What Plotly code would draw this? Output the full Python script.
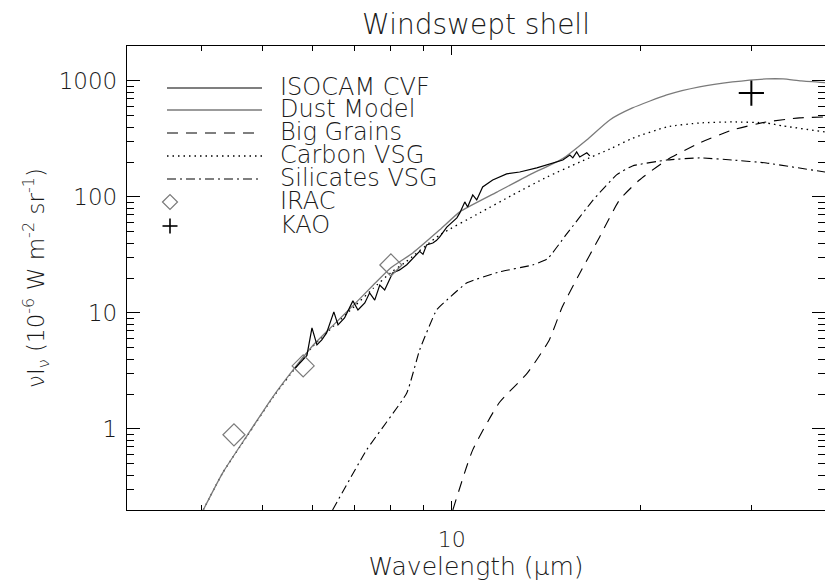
import math
import plotly.graph_objects as go

# ---------------- data ----------------
dust_wl = [4.02, 4.32, 4.73, 5.19, 5.67, 6.0, 6.5, 7.0, 7.5, 8.0, 8.67, 9.57, 10.3, 11.8, 13.3,
           15.0, 16.4, 17.85, 19.4, 22.0, 24.8, 28.0, 31.7, 33.7, 36.0, 40.0]
dust_val = [0.2, 0.42, 0.89, 1.89, 3.56, 5.19, 8.0, 11.9, 17.4, 24.5, 32.9, 52.0, 74.3, 110, 155,
            213, 310, 461, 585, 757, 888, 980, 1040, 1040, 1000, 960]

carbon_wl = [4.02, 4.32, 4.73, 5.19, 5.67, 6.0, 6.5, 7.0, 7.5, 8.0, 8.41, 9.57, 11.08, 12.5, 14.2,
             16.0, 18.0, 19.4, 22.0, 24.8, 28.0, 31.7, 33.7, 39.3, 40.0]
carbon_val = [0.2, 0.42, 0.88, 1.87, 3.5, 5.1, 7.8, 11.4, 16.3, 22.3, 27.0, 47.0, 72.8, 104, 149,
              200, 264, 320, 401, 434, 443, 434, 409, 363, 355]

sil_wl = [6.46, 7.32, 8.48, 8.89, 9.46, 9.82, 10.56, 11.92, 13.45, 14.2, 15.2, 16.8, 18.3,
          19.4, 22.0, 24.8, 28.0, 31.7, 39.3, 40.0]
sil_val = [0.2, 0.66, 2.04, 4.8, 10.6, 12.9, 18.1, 22.6, 25.9, 29.2, 47.0, 94.2, 155,
           185, 208, 217, 208, 196, 164, 162]

big_wl = [10.04, 10.8, 11.9, 13.2, 14.3, 15.0, 16.0, 17.2, 18.5, 19.9, 22.0, 24.8, 28.0,
          31.7, 35.8, 39.3, 40.0]
big_val = [0.2, 0.66, 1.68, 3.04, 5.85, 11.3, 22.1, 45.2, 94.2, 140, 208, 292, 378,
           443, 480, 489, 490]

cvf_wl = [5.62, 5.73, 5.88, 5.99, 6.10, 6.21, 6.32, 6.49, 6.59, 6.75, 6.96, 7.09, 7.27,
          7.40, 7.54, 7.68, 7.82, 8.05, 8.26, 8.48, 8.67, 8.89, 9.00, 9.12, 9.33, 9.45,
          9.57, 9.82, 10.19, 10.30, 10.49, 10.60, 10.80, 10.96, 11.20, 11.62, 12.23, 12.83,
          13.66, 14.48, 15.03, 15.42, 15.59, 15.81, 15.99, 16.41, 16.59]
cvf_val = [3.3, 3.7, 4.3, 7.42, 5.30, 5.85, 6.72, 10.2, 7.88, 9.05, 12.7, 10.6, 12.2,
           14.9, 12.9, 17.4, 15.8, 22.1, 23.5, 26.0, 29.8, 34.0, 32.0, 38.6, 40.1, 42.0,
           45.2, 55.0, 66.0, 72.8, 90.6, 82.0, 104, 94.2, 122, 140, 158, 164,
           178, 196, 208, 230, 217, 244, 221, 240, 226]

irac_wl = [4.5, 5.8, 8.0]
irac_val = [0.89, 3.49, 25.9]

kao_wl = [30.0]
kao_val = [785]

legend_labels = ["ISOCAM CVF", "Dust Model", "Big Grains", "Carbon VSG",
                 "Silicates VSG", "IRAC", "KAO"]

y_major = [1, 10, 100, 1000]
y_minor = [0.2, 0.3, 0.4, 0.5, 0.6, 0.7, 0.8, 0.9, 2, 3, 4, 5, 6, 7, 8, 9,
           20, 30, 40, 50, 60, 70, 80, 90, 200, 300, 400, 500, 600, 700, 800, 900]
x_major = [10]
x_minor = [4, 5, 6, 7, 8, 9, 20, 30]

FONT = "DejaVu Sans"
TXT = "#1a1a1a"
GREY = "#7a7a7a"
DASH = "11px,8px"
DOT = "1.5px,4px"
DASHDOT = "9px,4px,2px,4px"

fig = go.Figure()
fig.add_trace(go.Scatter(x=big_wl, y=big_val, mode="lines", name="Big Grains",
                         line=dict(color="black", width=1.1, dash=DASH,
                                   shape="spline", smoothing=0.5)))
fig.add_trace(go.Scatter(x=carbon_wl, y=carbon_val, mode="lines", name="Carbon VSG",
                         line=dict(color="black", width=1.3, dash=DOT,
                                   shape="spline", smoothing=0.5)))
fig.add_trace(go.Scatter(x=sil_wl, y=sil_val, mode="lines", name="Silicates VSG",
                         line=dict(color="black", width=1.1, dash=DASHDOT,
                                   shape="spline", smoothing=0.4)))
fig.add_trace(go.Scatter(x=dust_wl, y=dust_val, mode="lines", name="Dust Model",
                         line=dict(color=GREY, width=1.3, shape="spline", smoothing=0.5)))
fig.add_trace(go.Scatter(x=cvf_wl, y=cvf_val, mode="lines", name="ISOCAM CVF",
                         line=dict(color="black", width=1.2)))
fig.add_trace(go.Scatter(x=irac_wl, y=irac_val, mode="markers", name="IRAC",
                         marker=dict(symbol="diamond-open", size=17,
                                     color=GREY, line=dict(color=GREY, width=1.2))))
fig.add_trace(go.Scatter(x=kao_wl, y=kao_val, mode="markers", name="KAO",
                         marker=dict(symbol="cross-thin", size=18,
                                     line=dict(color="black", width=2))))

# ---------------- manual legend (IDL style) ----------------
L, R, T, B = 127, 825, 46, 510
W, H = R - L, B - T
def px(x):
    return (x - L) / W
def py(y):
    return (B - y) / H

rows = [88, 110, 133, 156, 179, 202, 226]
line_styles = [("black", 1.2, "solid"), (GREY, 1.3, "solid"), ("black", 1.1, DASH),
               ("black", 1.3, DOT), ("black", 1.1, DASHDOT)]
shapes = []
for (c, w, d), ry in zip(line_styles, rows[:5]):
    shapes.append(dict(type="line", xref="paper", yref="paper",
                       x0=px(167), x1=px(262), y0=py(ry), y1=py(ry),
                       line=dict(color=c, width=w, dash=d)))
# diamond key
cx, cy, s = 170, rows[5], 7.5
shapes.append(dict(type="path", xref="paper", yref="paper",
                   path=f"M {px(cx - s)} {py(cy)} L {px(cx)} {py(cy - s)} L {px(cx + s)} {py(cy)} "
                        f"L {px(cx)} {py(cy + s)} Z",
                   line=dict(color=GREY, width=1.2)))
# cross key
cx, cy, s = 170, rows[6], 7.5
shapes.append(dict(type="line", xref="paper", yref="paper",
                   x0=px(cx - s), x1=px(cx + s), y0=py(cy), y1=py(cy),
                   line=dict(color="black", width=1.6)))
shapes.append(dict(type="line", xref="paper", yref="paper",
                   x0=px(cx), x1=px(cx), y0=py(cy - s), y1=py(cy + s),
                   line=dict(color="black", width=1.6)))

annotations = []
for lab, ry in zip(legend_labels, rows):
    annotations.append(dict(text=lab, xref="paper", yref="paper", x=px(278), y=py(ry - 1),
                            xanchor="left", yanchor="middle", showarrow=False,
                            font=dict(family=FONT, size=24, color=TXT, weight=200)))

fig.update_layout(
    width=825, height=585,
    margin=dict(l=L, r=0, t=T, b=585 - B, autoexpand=False),
    paper_bgcolor="white", plot_bgcolor="white",
    showlegend=False,
    shapes=shapes, annotations=annotations,
    title=dict(text="Windswept shell", x=0.5, xref="paper", xanchor="center",
               y=1 - 24 / 585, yref="container", yanchor="middle",
               font=dict(family=FONT, size=28, color=TXT, weight=200)),
    font=dict(family=FONT, color=TXT),
)

fig.update_xaxes(
    type="log", range=[math.log10(3.04), math.log10(39.3)],
    tickvals=x_major, ticktext=["10"], ticks="inside", ticklen=9, tickwidth=1,
    tickcolor="black", showline=True, linecolor="black", linewidth=1.3, mirror="ticks",
    showgrid=False, zeroline=False,
    minor=dict(tickvals=x_minor, ticks="inside", ticklen=5, tickwidth=1,
               tickcolor="black", showgrid=False),
    tickfont=dict(family=FONT, size=22, color=TXT, weight=200), ticklabelstandoff=9,
    title=dict(text="Wavelength (μm)", standoff=4,
               font=dict(family=FONT, size=25, color=TXT, weight=200)),
)
fig.update_yaxes(
    type="log", range=[math.log10(0.2), math.log10(2000)],
    tickvals=y_major, ticktext=[str(v) for v in y_major], ticks="inside", ticklen=13,
    tickwidth=1, tickcolor="black", showline=True, linecolor="black", linewidth=1.3,
    mirror="ticks", showgrid=False, zeroline=False,
    minor=dict(tickvals=y_minor, ticks="inside", ticklen=7, tickwidth=1,
               tickcolor="black", showgrid=False),
    tickfont=dict(family=FONT, size=23, color=TXT, weight=200), ticklabelstandoff=4,
    title=dict(text="νI<sub>ν</sub> (10<sup>-6</sup> W m<sup>-2</sup> sr<sup>-1</sup>)",
               standoff=7, font=dict(family=FONT, size=23, color=TXT, weight=200)),
)

fig.write_html("out.html")
